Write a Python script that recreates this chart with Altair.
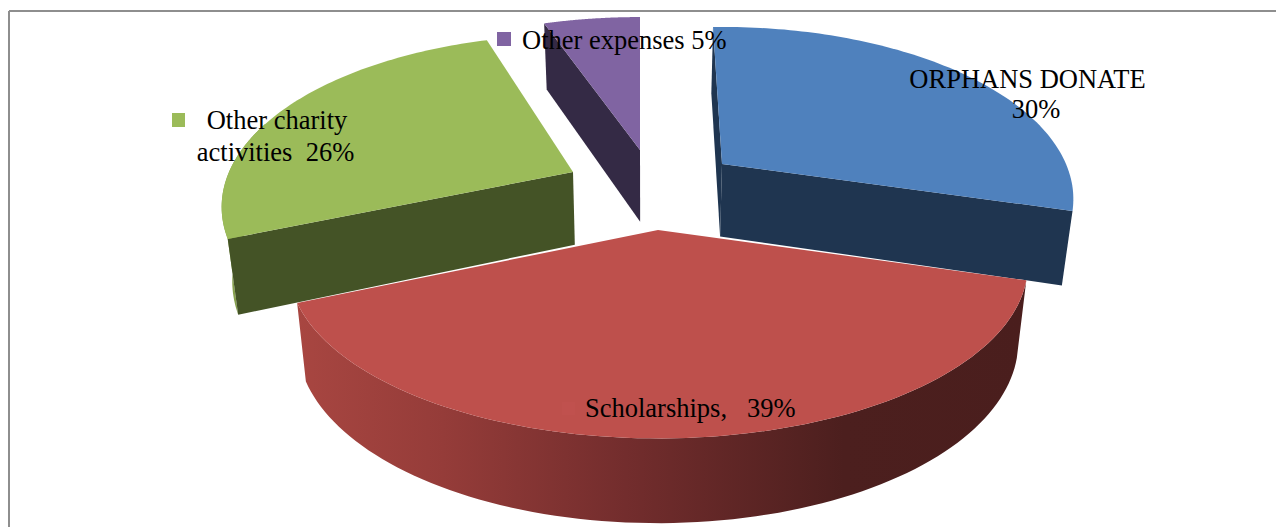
import math
import altair as alt
import pandas as pd

# --- chart values ---
names = ["ORPHANS DONATE", "Scholarships", "Other charity activities", "Other expenses"]
shares = [30, 39, 26, 5]

# --- styling / projection settings ---
top_colors = ["#4f81bd", "#be504c", "#9bbb59", "#8064a2"]
wall_colors = ["#1f3550", None, "#445326", "#342a45"]
start_angle = -1.4
angle_bias = [(-0.4, -1), (0, -0.8), (1, 2), (0, 1.4)]   # small per-slice rim adjustment (start, end)
apex = [(722, 164), (658, 230), (573, 172), (640, 150)]
scale_x = [344, 362, 344, 344]
scale_y = [165, 166, 165, 160]
perspective = 0.2035
X_DOM = [8, 1276]
Y_DOM = [527, 8]
x_enc = alt.X("x:Q", scale=alt.Scale(domain=X_DOM, nice=False, zero=False), axis=None)
y_enc = alt.Y("y:Q", scale=alt.Scale(domain=Y_DOM, nice=False, zero=False), axis=None)


def rim(i, deg):
    t = math.radians(deg)
    d = 1 + perspective * math.cos(t)
    return (apex[i][0] + scale_x[i] * math.sin(t) / d,
            apex[i][1] - scale_y[i] * math.cos(t) / d)


def lower(p):
    return (646 + 0.975 * (p[0] - 646), p[1] * 1.045 + 65)


def arc(i, a, b, n=90):
    return [rim(i, a + (b - a) * k / n) for k in range(n + 1)]


def poly(points, fill):
    df = pd.DataFrame({"x": [p[0] for p in points], "y": [p[1] for p in points],
                       "i": list(range(len(points)))})
    return alt.Chart(df).mark_line(fill=fill, strokeWidth=0, interpolate="linear").encode(
        x=x_enc, y=y_enc, order="i:Q")


edges = [start_angle]
for s in shares:
    edges.append(edges[-1] + 3.6 * s)


def span(i):
    return edges[i] + angle_bias[i][0], edges[i + 1] + angle_bias[i][1]


layers = []

# frame
layers.append(alt.Chart(pd.DataFrame({"x": [9], "y": [11], "y2": [527]})).mark_rule(color="#8e8e8e", strokeWidth=2).encode(x=x_enc, y=y_enc, y2="y2:Q"))
layers.append(alt.Chart(pd.DataFrame({"x": [9], "x2": [1276], "y": [11]})).mark_rule(color="#8e8e8e", strokeWidth=2).encode(x=x_enc, x2="x2:Q", y=y_enc))

# purple: cut face on the left, then top
i = 3
a, b = span(i)
s = rim(i, a)
layers.append(poly([apex[i], s, lower(s), lower(apex[i])], wall_colors[i]))
layers.append(poly([apex[i]] + arc(i, a, b), top_colors[i]))

# green: outer wall sliver, cut face, top
i = 2
a, b = span(i)
up = arc(i, a, a + 40)
layers.append(poly(up + [lower(p) for p in reversed(up)], "#86a04d"))
s = rim(i, a)
layers.append(poly([apex[i], s, lower(s), lower(apex[i])], wall_colors[i]))
layers.append(poly([apex[i]] + arc(i, a, b), top_colors[i]))

# blue: both cut faces, top
i = 0
a, b = span(i)
s = rim(i, a)
layers.append(poly([apex[i], s, lower(s), lower(apex[i])], wall_colors[i]))
s = rim(i, b)
layers.append(poly([apex[i], s, lower(s), lower(apex[i])], wall_colors[i]))
layers.append(poly([apex[i]] + arc(i, a, b), top_colors[i]))

# red: gradient outer wall, top
i = 1
a, b = span(i)
up = arc(i, a, b)
red_gradient = alt.Gradient(
    gradient="linear", x1=0, x2=1, y1=0, y2=0,
    stops=[
        alt.GradientStop(offset=0.0, color="#a84641"),
        alt.GradientStop(offset=0.2, color="#953c39"),
        alt.GradientStop(offset=0.45, color="#732d2d"),
        alt.GradientStop(offset=0.75, color="#4c1f1e"),
        alt.GradientStop(offset=1.0, color="#4a1e1d"),
    ],
)
layers.append(poly(up + [lower(p) for p in reversed(up)], red_gradient))
layers.append(poly([apex[i]] + up, top_colors[i]))

# legend keys inside the labels
keys = pd.DataFrame({"x": [172, 497, 562], "x2": [185, 511, 575],
                     "y": [113, 32, 402], "y2": [127, 46, 415],
                     "c": ["#9bbb59", "#8064a2", "#c0514e"]})
layers.append(alt.Chart(keys).mark_rect().encode(
    x=x_enc, x2="x2:Q", y=y_enc, y2="y2:Q", color=alt.Color("c:N", scale=None, legend=None)))

# labels
label_text = [
    f"{names[0]}", f"{shares[0]}%",
    "Other charity", f"activities\u00a0\u00a0{shares[2]}%",
    f"{names[3]} {shares[3]}%",
    f"{names[1]},\u00a0\u00a0\u00a0{shares[1]}%",
]
label_x = [1027.5, 1036, 277, 275.5, 522, 585]
label_y = [88, 118, 129, 161, 49, 417]
labels = pd.DataFrame({"x": label_x[:4], "y": label_y[:4], "t": label_text[:4]})
labels2 = pd.DataFrame({"x": label_x[4:], "y": label_y[4:], "t": label_text[4:]})
for df, al in ((labels, "center"), (labels2, "left")):
    layers.append(alt.Chart(df).mark_text(
        font="Liberation Serif", fontSize=26.5, color="#000000", align=al, baseline="alphabetic"
    ).encode(x=x_enc, y=y_enc, text="t:N"))

chart = alt.layer(*layers).properties(
    width=1268, height=519, padding=0, background="white",
    autosize=alt.AutoSizeParams(type="none"),
).configure_view(stroke=None)

chart.save("out.html", embed_options={"renderer": "svg", "actions": False})
